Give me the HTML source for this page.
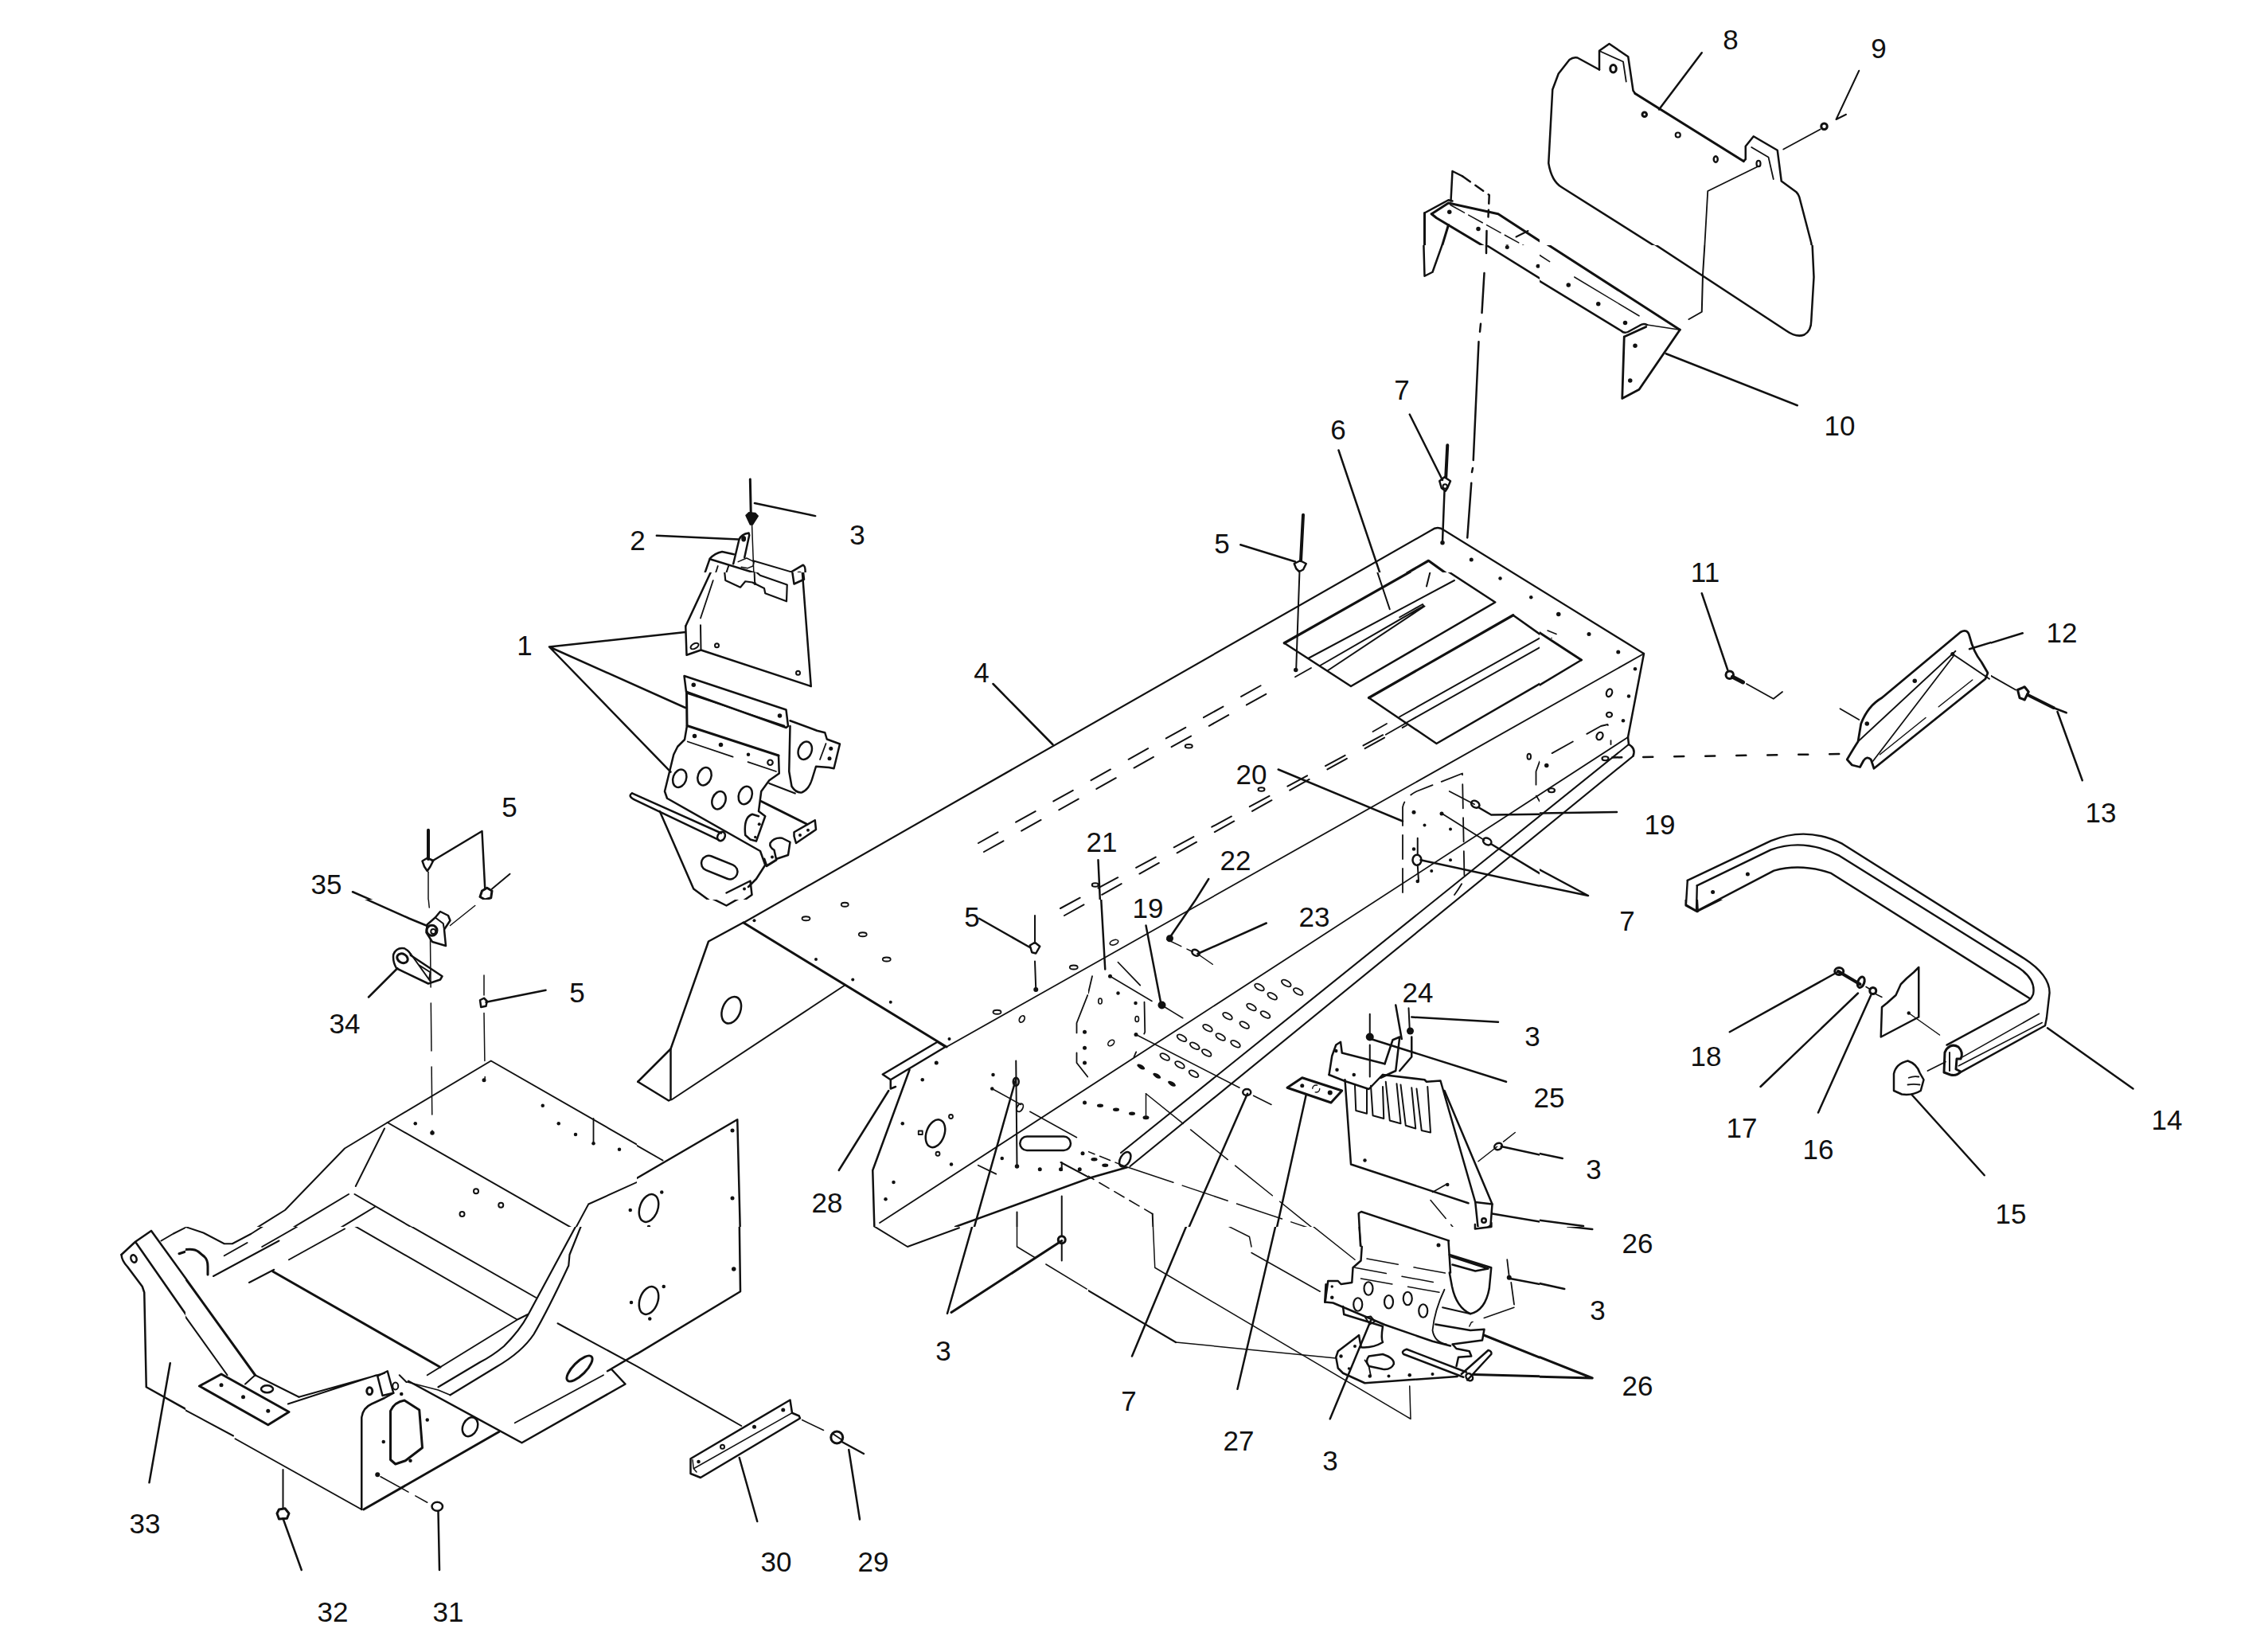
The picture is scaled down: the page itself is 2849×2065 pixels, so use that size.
<!DOCTYPE html>
<html><head><meta charset="utf-8">
<style>
html,body{margin:0;padding:0;background:#fff;}
body{width:2849px;height:2065px;overflow:hidden;}
svg{display:block;}
svg path,svg line,svg polyline,svg polygon,svg ellipse,svg circle,svg rect{vector-effect:non-scaling-stroke;}
.t{font-family:"Liberation Sans",sans-serif;font-size:35px;fill:#111;}
</style></head><body>
<svg width="2849" height="2065" viewBox="0 0 2849 2065" xmlns="http://www.w3.org/2000/svg">
<defs>
<clipPath id="c0_0_1_0_0_2849_2065"><rect x="0.0" y="0.0" width="2849.0" height="2065.0"/></clipPath>
<clipPath id="c0_1541_4_0_1541_233_411"><rect x="0.0" y="1541.0" width="233.0" height="411.0"/></clipPath>
<clipPath id="c1367_0_4_1367_0_567_308"><rect x="1367.0" y="0.0" width="567.0" height="308.0"/></clipPath>
<clipPath id="c1367_1130"><rect x="1367.0" y="1130.0" width="567" height="411"/></clipPath>
<clipPath id="c1367_1541_4_1367_1541_567_524"><rect x="1367.0" y="1541.0" width="567.0" height="524.0"/></clipPath>
<clipPath id="c1367_308"><rect x="1367.0" y="308.0" width="567" height="411"/></clipPath>
<clipPath id="c1367_719"><rect x="1367.0" y="719.0" width="567" height="411"/></clipPath>
<clipPath id="c1934_0_4_1934_0_567_308"><rect x="1934.0" y="0.0" width="567.0" height="308.0"/></clipPath>
<clipPath id="c1934_1130"><rect x="1934.0" y="1130.0" width="567" height="411"/></clipPath>
<clipPath id="c1934_1541"><rect x="1934.0" y="1541.0" width="567" height="411"/></clipPath>
<clipPath id="c1934_308"><rect x="1934.0" y="308.0" width="567" height="411"/></clipPath>
<clipPath id="c1934_719"><rect x="1934.0" y="719.0" width="567" height="411"/></clipPath>
<clipPath id="c2282_1130_4_2501_1130_348_411"><rect x="2501.0" y="1130.0" width="348.0" height="411.0"/></clipPath>
<clipPath id="c2282_719_4_2501_719_348_411"><rect x="2501.0" y="719.0" width="348.0" height="411.0"/></clipPath>
<clipPath id="c233_1130"><rect x="233.0" y="1130.0" width="567" height="411"/></clipPath>
<clipPath id="c233_1541_4_233_1541_567_524"><rect x="233.0" y="1541.0" width="567.0" height="524.0"/></clipPath>
<clipPath id="c233_719"><rect x="233.0" y="719.0" width="567" height="411"/></clipPath>
<clipPath id="c780_620_7p473_800_308_567_411"><rect x="800.0" y="308.0" width="567.0" height="411.0"/></clipPath>
<clipPath id="c800_1130"><rect x="800.0" y="1130.0" width="567" height="411"/></clipPath>
<clipPath id="c800_1541_4_800_1541_567_524"><rect x="800.0" y="1541.0" width="567.0" height="524.0"/></clipPath>
<clipPath id="c800_719"><rect x="800.0" y="719.0" width="567" height="411"/></clipPath>
</defs>
<g fill="none" stroke="#111" stroke-width="2.5" stroke-linecap="round" stroke-linejoin="round">
<g clip-path="url(#c0_0_1_0_0_2849_2065)"><g transform="translate(0.0 0.0) scale(1.000000)"><g stroke-width="2" stroke-dasharray="28 26">
<path d="M1229,1059 L1593,856"/>
<path d="M1236,1070 L1606,863"/>
<path d="M1332,1141 L1745,919"/>
<path d="M1337,1150 L1767,911"/>
</g>
<path stroke-width="2.2" d="M934,1159 L1798,666 Q1806,660 1814,666 L2065,821"/>
<path stroke-width="1.8" d="M1189,1315 L2065,821"/>
<path stroke-width="3" d="M934,1159 L1189,1315"/>
<path stroke-width="2.5" d="M2065,821 L2045,926"/>
<path stroke-width="1.8" d="M1105,1536 L2045,926"/>
<path stroke-width="2.1" d="M1408,1448 L2046,935"/>
<path stroke-width="2.1" d="M1419.5,1465 L2051.6,949.6"/>
<path stroke-width="2.5" d="M861,794 L690,812.5 L861,889 M690,812.5 L842.5,969.6"/>
<path stroke-width="2.5" d="M794,996.3 L906,1046.5 M797.3,1004.7 L902.7,1054.8 M794,996.3 Q788,1000 797.3,1004.7"/>
<ellipse cx="906" cy="1050.5" rx="4.5" ry="6" transform="rotate(30 906 1050.5)" stroke-width="2.5"/>
<g stroke-width="2.4">
<path d="M2119.8,1105.9 L2224.6,1056.1 Q2269.5,1037.4 2314.4,1059.9 L2542.8,1204 Q2574.6,1224.6 2574.6,1247 L2570.9,1278.9"/>
<path d="M2131.8,1112.3 L2224.6,1067.4 Q2265.8,1052.4 2310.7,1074.9 L2535.3,1215.2 Q2557.8,1230.2 2554,1248.9 Q2550.3,1258.3 2539,1262 L2445.5,1312.6"/>
<path d="M2131.8,1144.1 L2228.3,1093.6 Q2262,1084.2 2299.5,1096.6 L2550.3,1254.5"/>
<path d="M2119.8,1105.9 L2117.9,1136.6 L2131,1144.1 L2131.8,1112.3"/>
<path d="M2570.9,1278.9 L2569,1288.2 L2460.4,1348.1"/>
</g>
<path stroke-width="1.6" d="M2565.3,1284.5 L2460.4,1338.8 M2561.5,1273.3 L2462.3,1329.4"/>
<path stroke-width="3" d="M2445,1318 Q2452,1310 2460,1315 Q2467,1322 2463,1330 L2458,1330 L2457,1343 L2463,1346 Q2458,1352 2450,1350 L2442,1347 L2443,1322 Z"/>
<path stroke-width="2" d="M2449,1322 L2449,1345"/>
<g fill="#111" stroke="none"><circle cx="2151.6" cy="1120.5" r="2.5"/><circle cx="2195.4" cy="1098" r="2.5"/></g>
<path stroke-width="2.5" d="M1709,1565 L1706.7,1524 L1710,1522 L1820,1558.4"/>
<path stroke-width="2.5" d="M1852.9,1538 L1852.9,1543.6 L1873.4,1541 L1873.4,1536"/>
</g></g>
<g clip-path="url(#c0_1541_4_0_1541_233_411)"><g transform="translate(0.0 1541.0) scale(0.250000)"><path stroke-width="2.5" d="M610,140 L680,75 L760,20 M680,75 L1150,750 M760,20 L1285,745"/>
<path stroke-width="2.5" d="M610,140 Q612,170 640,200 L715,300 L725,330 L735,805 L1165,1045"/>
<ellipse cx="672" cy="160" rx="14" ry="19" transform="rotate(-20 672 160)" stroke-width="2.5"/>
<path stroke-width="2" d="M810,70 L870,35 L960,-10"/>
<path stroke-width="3" d="M900,135 L960,115 L1000,130 L1045,175 L1045,240"/>
<path d="M855,685 L750,1285"/>
</g></g>
<g clip-path="url(#c1367_0_4_1367_0_567_308)"><g transform="translate(1367.0 0.0) scale(0.250000)"><path stroke-width="3" d="M1690,1070 L1690,1390 L1740,1360 L1810,1130"/>
<path stroke-width="2.5" d="M1690,1070 L1810,1005 L1830,1010"/>
<path stroke-width="3" d="M1725,1075 L1810,1020 L2060,1075 L2290,1225"/>
<path stroke-width="3" d="M1725,1075 L1750,1095 L2290,1418"/>
<path stroke-width="2.5" d="M1822,1010 L1830,860 L1880,885"/>
<path stroke-width="2.5" stroke-dasharray="12 8" d="M1880,885 L2015,980 L2010,1090"/>
<path stroke-width="2.5" d="M2002,1160 L2000,1280"/>
<path stroke-width="1.5" stroke-dasharray="20 6" d="M1820,1030 L2290,1290"/>
<g fill="#111" stroke="none"><circle cx="1815" cy="1065" r="11"/><circle cx="1960" cy="1150" r="11"/><circle cx="2105" cy="1240" r="11"/></g>
<path stroke-width="2" d="M2150,1190 L2210,1160"/>
</g></g>
<g clip-path="url(#c1367_1130)"><g transform="translate(1367.0 1130.0) scale(0.250000)">




<ellipse cx="185" cy="1305" rx="24" ry="40" transform="rotate(30 185 1305)"/>
<path d="M-20,1406 L195,1345"/>
<path stroke-width="1.6" stroke-dasharray="14 8" d="M-20,1377 L26.8,1405 L323,1579"/>
<path stroke-width="2" d="M323,1579 L328,1720"/>
<path stroke-width="1.5" stroke-dasharray="14 7" d="M-20,1258 L190,1342"/>
<path stroke-width="1.5" stroke-dasharray="60 12" d="M200,1345 L1140,1660"/>
<path stroke-width="1.5" d="M290,975 L290,1095"/>
<path stroke-width="1.5" stroke-dasharray="60 12" d="M290,975 L1140,1660"/>
<g stroke-width="1.8">
<ellipse cx="860" cy="440" rx="26" ry="13" transform="rotate(30 860 440)"/>
<ellipse cx="925" cy="485" rx="26" ry="13" transform="rotate(30 925 485)"/>
<ellipse cx="995" cy="420" rx="26" ry="13" transform="rotate(30 995 420)"/>
<ellipse cx="1055" cy="462" rx="26" ry="13" transform="rotate(30 1055 462)"/>
<ellipse cx="820" cy="540" rx="26" ry="13" transform="rotate(30 820 540)"/>
<ellipse cx="890" cy="578" rx="26" ry="13" transform="rotate(30 890 578)"/>
<ellipse cx="700" cy="585" rx="26" ry="13" transform="rotate(30 700 585)"/>
<ellipse cx="785" cy="630" rx="26" ry="13" transform="rotate(30 785 630)"/>
<ellipse cx="600" cy="645" rx="26" ry="13" transform="rotate(30 600 645)"/>
<ellipse cx="665" cy="690" rx="26" ry="13" transform="rotate(30 665 690)"/>
<ellipse cx="740" cy="725" rx="26" ry="13" transform="rotate(30 740 725)"/>
<ellipse cx="470" cy="695" rx="26" ry="13" transform="rotate(30 470 695)"/>
<ellipse cx="535" cy="735" rx="26" ry="13" transform="rotate(30 535 735)"/>
<ellipse cx="595" cy="770" rx="26" ry="13" transform="rotate(30 595 770)"/>
<ellipse cx="385" cy="790" rx="26" ry="13" transform="rotate(30 385 790)"/>
<ellipse cx="460" cy="830" rx="26" ry="13" transform="rotate(30 460 830)"/>
<ellipse cx="530" cy="875" rx="26" ry="13" transform="rotate(30 530 875)"/>
</g>
<g fill="#111" stroke="none">
<ellipse cx="265" cy="840" rx="22" ry="10" transform="rotate(30 265 840)"/>
<ellipse cx="345" cy="885" rx="22" ry="10" transform="rotate(30 345 885)"/>
<ellipse cx="420" cy="925" rx="22" ry="10" transform="rotate(30 420 925)"/>
<ellipse cx="60" cy="1035" rx="16" ry="9"/>
<ellipse cx="140" cy="1055" rx="16" ry="9"/>
<ellipse cx="220" cy="1075" rx="16" ry="9"/>
<ellipse cx="290" cy="1095" rx="16" ry="10"/>
<ellipse cx="30" cy="1305" rx="16" ry="9"/>
<ellipse cx="85" cy="1335" rx="16" ry="9"/>
<circle cx="370" cy="530" r="20"/>
<circle cx="410" cy="195" r="18"/>
<circle cx="110" cy="385" r="10"/>
<circle cx="240" cy="678" r="10"/>
<circle cx="150" cy="470" r="9"/>
<circle cx="238" cy="520" r="9"/>
<circle cx="1415" cy="690" r="20"/>
<circle cx="1618" cy="660" r="18"/>
<circle cx="1390" cy="1310" r="9"/>
<circle cx="1075" cy="935" r="10"/>
<circle cx="1215" cy="970" r="12"/>
<circle cx="1245" cy="760" r="9"/>
<circle cx="1250" cy="855" r="9"/>
<circle cx="1335" cy="880" r="9"/>
</g>
<g stroke-width="1.6">
<ellipse cx="60" cy="510" rx="9" ry="14"/>
<ellipse cx="115" cy="720" rx="18" ry="12" transform="rotate(-40 115 720)"/>
<ellipse cx="245" cy="600" rx="9" ry="14"/>
<ellipse cx="130" cy="215" rx="22" ry="12" transform="rotate(-20 130 215)"/>
</g>
<path stroke-width="1.8" stroke-dasharray="40 25" d="M150,315 L285,455 M20,385 L0,470 M282,515 L285,665 L230,790"/>
<path stroke-width="1.5" d="M110,385 L320,510 M385,540 L475,595"/>
<path stroke-width="1.5" d="M240,678 L760,945 M830,985 L920,1030"/>
<ellipse cx="797" cy="968" rx="20" ry="16"/>
<path d="M65,0 L85,350"/>
<path d="M290,130 L365,520"/>
<path d="M540,0 L410,190"/>
<path stroke-width="1.5" stroke-dasharray="20 8" d="M395,200 L525,262"/>
<ellipse cx="540" cy="267" rx="20" ry="14" transform="rotate(30 540 267)"/>
<path stroke-width="1.5" d="M560,280 L625,325"/>
<path d="M550,272 L895,118"/>
<path d="M500,1660 L800,975"/>
<path d="M945,1660 L1095,980"/>
<path stroke-width="3" d="M1000,945 L1075,895 L1275,960 L1220,1020 Z"/>
<circle cx="1145" cy="950" r="18" stroke-width="1.4" stroke-dasharray="8 6"/>
<path d="M1210,880 L1225,785 L1245,730 L1268,715 L1275,770 L1490,825"/>
<path d="M1210,880 L1290,912 L1410,952 L1460,900 L1480,880"/>
<path d="M1490,825 L1530,705 L1565,690 L1545,860 L1470,895"/>
<path d="M1565,860 L1625,790 L1625,690"/>
<path stroke-width="2" d="M1415,575 L1415,680 M1415,730 L1415,890"/>
<path stroke-width="2" d="M1610,545 L1615,650"/>
<path d="M1545,530 L1575,700"/>
<path d="M1625,590 L2060,615"/>
<path d="M1420,700 L2100,915"/>
<path d="M1290,905 L1320,1330 L1910,1525"/>
<path d="M1480,880 L1690,905 L1700,915 L1770,910 L1945,1520 L1958,1645"/>
<path d="M1790,960 L2030,1530 L2022,1635 Q1990,1668 1958,1645"/>
<circle cx="1988" cy="1612" r="11" stroke-width="2.5"/>
<path d="M1945,1520 L2030,1530"/>
<g stroke-width="2">
<path d="M1340,935 L1345,1060 L1400,1075 L1400,950"/>
<path d="M1420,935 L1430,1085 L1485,1100 L1480,940"/>
<path d="M1495,915 L1515,1110 L1570,1125 L1550,925"/>
<path d="M1570,930 L1595,1135 L1645,1150 L1625,945"/>
<path d="M1650,950 L1675,1160 L1720,1170 L1705,940"/>
</g>
<path stroke-width="1.5" stroke-dasharray="30 10" d="M1960,1315 L2145,1170"/>
<ellipse cx="2060" cy="1240" rx="20" ry="16" transform="rotate(-30 2060 1240)"/>
<path d="M2075,1240 L2280,1285"/>
<path stroke-width="1.5" d="M1730,1470 L1800,1430"/>
<circle cx="1805" cy="1432" r="9" fill="#111" stroke="none"/>
<path stroke-width="1.5" stroke-dasharray="30 10" d="M1720,1510 L1845,1660"/>

<path d="M2030,1578 L2280,1620"/>
</g></g>
<g clip-path="url(#c1367_1541_4_1367_1541_567_524)"><g transform="translate(1367.0 1541.0) scale(0.250000)"><path d="M500,-20 L220,650"/>
<path d="M945,-20 L750,815"/>
<path d="M1215,965 L1420,470"/>
<path stroke-width="1.5" d="M325,-20 L335,205 L1620,965 L1615,800"/>
<path stroke-width="2.2" d="M-20,308 L440,580"/>
<path stroke-width="1.5" d="M440,580 L1245,660"/>
<path stroke-width="1.5" d="M690,-10 L810,50 L820,100 M820,130 L1165,325"/>
<path stroke-width="1.5" d="M1120,-10 L1340,165"/>
<path stroke-width="2" d="M1360,-20 L1370,95"/>
<path d="M1810,70 L1820,230"/>
<path d="M1375,100 L1370,170 L1330,205 L1325,280 L1270,288 L1255,272 L1205,272 L1190,378 L1230,382 L1490,492 L1730,575 L1820,598"/>
<path stroke-width="3" d="M1195,290 L1190,378"/>
<path d="M1815,140 L2025,205 L2015,310 Q1995,420 1920,437 Q1850,405 1828,300 L1815,230"/>
<path d="M1825,150 L2010,210 L1945,222 L1830,190"/>
<path stroke-width="1.8" d="M1780,405 L1920,437 M1790,315 Q1740,420 1730,520 Q1740,580 1800,590"/>
<path d="M1745,490 L1920,520 L1990,515 L1980,570 L1830,590 L1850,612 L1915,625 L1925,650 L1860,655 L1850,700"/>
<g stroke-width="2.2">
<ellipse cx="1408" cy="310" rx="22" ry="33"/>
<ellipse cx="1355" cy="390" rx="22" ry="33"/>
<ellipse cx="1510" cy="377" rx="22" ry="33"/>
<ellipse cx="1605" cy="360" rx="22" ry="33"/>
<ellipse cx="1683" cy="422" rx="22" ry="33"/>
</g>
<path stroke-width="1.5" stroke-dasharray="40 20" d="M1400,160 L1810,235 M1340,205 L1800,290 M1370,260 L1770,330"/>
<path d="M1280,400 L1285,440 L1480,500 Q1470,560 1480,580 Q1430,610 1370,605"/>
<path d="M1360,545 L1255,625 L1245,655 L1255,710 L1280,735 L1390,785 L1855,752"/>
<path d="M1360,545 L1370,600"/>
<path d="M1600,615 L1900,730 M1585,640 L1885,755 M1600,615 Q1570,625 1585,640"/>
<path d="M1410,650 L1480,640 Q1540,660 1535,690 Q1520,720 1480,715 L1410,700 Q1390,675 1410,650 Z"/>
<path stroke-width="1.8" d="M1390,670 L1410,700 L1420,750"/>
<path d="M1875,740 L2010,620 M1905,770 L2025,640 M2010,620 Q2030,625 2025,640"/>
<ellipse cx="1915" cy="755" rx="15" ry="20" transform="rotate(-40 1915 755)"/>
<g fill="#111" stroke="none">
<circle cx="1415" cy="750" r="9"/><circle cx="1510" cy="750" r="8"/><circle cx="1615" cy="745" r="9"/><circle cx="1730" cy="740" r="8"/>
<circle cx="1270" cy="650" r="9"/><circle cx="1340" cy="600" r="8"/><circle cx="1310" cy="712" r="7"/>
<circle cx="1760" cy="92" r="10"/><circle cx="2115" cy="255" r="12"/>
<circle cx="1225" cy="300" r="7"/><circle cx="1225" cy="355" r="9"/>
</g>
<path stroke-width="3" d="M1990,545 L2290,665"/>
<path stroke-width="3" d="M1935,742 L2290,752"/>
<path stroke-width="1.8" d="M2105,165 L2115,250 M2125,280 L2140,390"/>
<path d="M2120,260 L2290,292"/>
<path stroke-width="1.5" stroke-dasharray="40 15" d="M2140,405 L1925,480 L1915,500"/>
<path stroke-width="2" d="M1392,455 L1420,450 L1440,475 L1415,490 Z"/>
</g></g>
<g clip-path="url(#c1367_308)"><g transform="translate(1367.0 308.0) scale(0.250000)">
<path stroke-width="3.2" d="M1580,1660 L1710,1585 L1800,1650"/>
<path d="M1258,1030 L1470,1660"/>
<path d="M1615,850 L1780,1180"/>
<path stroke-width="4" d="M1805,1005 L1797,1165"/>
<path stroke-width="2.5" d="M1765,1185 L1790,1165 L1820,1185 L1805,1220 L1795,1235 L1775,1220 Z"/>
<circle cx="1793" cy="1212" r="11" stroke-width="2"/>
<path stroke-width="2.5" d="M1790,1235 L1780,1490"/>
<circle cx="1780" cy="1495" r="11" fill="#111" stroke="none"/>
<path stroke-width="4" d="M1080,1355 L1068,1585"/>
<path stroke-width="2.5" d="M1035,1600 L1065,1585 L1095,1600 L1080,1630 L1060,1640 L1045,1625 Z"/>
<path d="M765,1505 L1040,1590"/>
<path stroke-width="2.5" d="M1990,140 L1978,340 M1972,395 L1968,435 M1962,485 L1935,1080 M1932,1120 L1928,1140 M1925,1195 L1905,1470"/>
<path stroke-width="2.5" d="M1685,-20 L1690,155 L1730,135 L1785,-20"/>
<path stroke-width="2.5" d="M1985,-10 L2290,180 M2000,-10 L2000,40"/>
<g fill="#111" stroke="none"><circle cx="2105" cy="10" r="10"/><circle cx="2260" cy="105" r="10"/><circle cx="1925" cy="1580" r="10"/></g>
</g></g>
<g clip-path="url(#c1367_719)"><g transform="translate(1367.0 719.0) scale(0.250000)">
<path stroke-width="3.2" d="M985,355 L1630,-10"/>
<path stroke-width="2.5" d="M985,355 L1320,572 L2045,150 L1800,-10"/>
<path stroke-width="2" d="M1105,432 L1840,40 M1165,468 L1685,168 L1680,160 L1565,225 M1205,492 L1690,170"/>
<path stroke-width="2" d="M1515,185 L1450,-10"/>
<path stroke-width="2" d="M1700,70 L1720,-10"/>
<path stroke-width="2" d="M1062,-10 L1045,480"/>
<circle cx="1043" cy="490" r="11" fill="#111" stroke="none"/>
<path stroke-width="1.8" d="M1040,525 L1120,480"/>
<path stroke-width="3.2" d="M1410,630 L2135,215"/>
<path stroke-width="2.5" d="M1410,630 L1750,860 L2290,547 M2135,215 L2290,325"/>
<path stroke-width="2" d="M1565,725 L2290,318 M1590,760 L2290,365"/>
<path stroke-width="1.8" d="M1430,800 L1500,760 M1495,815 L1600,755"/>




<g stroke-width="1.8" stroke-dasharray="30 12">
<path d="M1580,1608 L1580,1180 Q1590,1130 1650,1100 L1880,1010 L1890,1540 Q1870,1580 1840,1620"/>
</g>
<path d="M955,990 L1580,1250"/>
<path stroke-width="1.8" d="M1815,1100 L1940,1165"/>
<ellipse cx="1945" cy="1165" rx="22" ry="16" transform="rotate(30 1945 1165)" stroke-width="2.5"/>
<path d="M1960,1180 L2025,1218 L2290,1215"/>
<path stroke-width="1.8" d="M1775,1210 L1990,1345"/>
<ellipse cx="2005" cy="1352" rx="22" ry="16" transform="rotate(30 2005 1352)" stroke-width="2.5"/>
<path d="M2025,1365 L2290,1525"/>
<path stroke-width="2" d="M1655,1335 L1655,1420 M1655,1470 L1660,1550"/>
<ellipse cx="1652" cy="1445" rx="22" ry="26" stroke-width="2.5"/>
<path d="M1670,1445 L2290,1580"/>
<g fill="#111" stroke="none"><circle cx="1636" cy="1205" r="10"/><circle cx="1776" cy="1212" r="10"/><circle cx="1690" cy="1270" r="8"/><circle cx="1820" cy="1290" r="8"/><circle cx="1636" cy="1390" r="9"/><circle cx="1820" cy="1445" r="8"/><circle cx="1725" cy="1500" r="8"/><circle cx="1655" cy="1552" r="9"/>
<circle cx="2070" cy="30" r="9"/><circle cx="2225" cy="125" r="9"/></g>
<ellipse cx="505" cy="873" rx="18" ry="9" stroke-width="2"/>
<ellipse cx="870" cy="1090" rx="16" ry="9" stroke-width="2"/>
<ellipse cx="35" cy="1570" rx="16" ry="9" stroke-width="2"/>
<ellipse cx="2215" cy="925" rx="9" ry="14" stroke-width="2"/>
<path stroke-width="1.8" stroke-dasharray="30 14" d="M2268,950 L2250,1000 L2250,1120 L2268,1150"/>
<path d="M50,1445 L60,1660"/>
<path d="M605,1540 L530,1660"/>
</g></g>
<g clip-path="url(#c1934_0_4_1934_0_567_308)"><g transform="translate(1934.0 0.0) scale(0.250000)"><path stroke-width="2.5" d="M300,350 L300,255 L350,220 L445,285 L470,455 L480,470"/>
<path stroke-width="3.2" d="M480,470 L1025,810"/>
<path stroke-width="2.5" d="M1025,810 L1035,800 L1035,735 L1075,685 L1195,755 L1215,910 L1290,965 Q1300,975 1305,990 L1365,1220 L1375,1300 L1365,1660"/>
<path stroke-width="2.5" d="M300,350 L190,290 Q170,285 150,300 L95,370 L65,450 L45,820 Q60,910 110,940 L1240,1654"/>
<path stroke-width="1.8" d="M305,258 L420,310 L435,410 M1065,740 L1150,790 L1175,900"/>
<ellipse cx="370" cy="345" rx="15" ry="19" stroke-width="3"/>
<path d="M815,265 L600,550"/>
<circle cx="527" cy="575" r="11" stroke-width="3"/>
<circle cx="695" cy="678" r="12" stroke-width="2.2"/>
<ellipse cx="885" cy="800" rx="10" ry="15" stroke-width="2.5"/>
<ellipse cx="1100" cy="822" rx="10" ry="15" stroke-width="2.2"/>
<path stroke-width="1.8" d="M1100,835 L845,960 L820,1400 L810,1570 L750,1600"/>
<path stroke-width="1.8" d="M1225,750 L1410,650"/>
<circle cx="1430" cy="635" r="15" stroke-width="3"/>
<path stroke-width="2" d="M1605,355 L1490,600 L1540,575"/>
</g></g>
<g clip-path="url(#c1934_1130)"><g transform="translate(1934.0 1130.0) scale(0.250000)"><path d="M735,-20 L735,30 L790,60 L930,-10 M790,-20 L795,60"/>








<path d="M1780,875 Q1790,825 1850,810 Q1895,825 1910,870 L1930,905 L1915,960 Q1875,985 1820,978 L1780,960 Z"/>
<path stroke-width="1.8" d="M1855,895 Q1880,885 1905,890 M1850,930 Q1880,925 1910,930"/>
<path d="M1870,980 L2235,1385"/>
<path stroke-width="1.8" stroke-dasharray="30 15" d="M1950,860 L2040,815"/>
<path d="M1715,690 L1720,540 L1745,520 L1790,480 L1815,425 L1845,395 L1880,365 L1905,340 L1905,590 Z"/>
<path stroke-width="1.5" d="M1855,570 L2010,680"/>
<circle cx="1855" cy="570" r="9" fill="#111" stroke="none"/>
<path stroke-width="4" d="M1500,360 L1610,425"/>
<ellipse cx="1505" cy="360" rx="22" ry="18" stroke-width="3"/>
<ellipse cx="1615" cy="415" rx="16" ry="28" stroke-width="3" transform="rotate(20 1615 415)"/>
<circle cx="1675" cy="458" r="16" stroke-width="3"/>
<path stroke-width="1.5" d="M1640,438 L1660,450 M1690,475 L1720,490"/>
<path d="M955,665 L1495,365"/>
<path d="M1110,940 L1600,470"/>
<path d="M1400,1070 L1665,480"/>
<path d="M-20,1272 L115,1300"/>
<path d="M-20,1608 L220,1640"/>
</g></g>
<g clip-path="url(#c1934_1541)"><g transform="translate(1934.0 1541.0) scale(0.250000)"><path d="M-20,280 L125,312"/>
<path stroke-width="3" d="M-20,647 L265,760 L-20,752"/>
<path d="M140,-2 L265,12"/>
</g></g>
<g clip-path="url(#c1934_308)"><g transform="translate(1934.0 308.0) scale(0.250000)"><path stroke-width="3" d="M30,-10 L705,425"/>
<path stroke-width="1.5" d="M175,160 L500,355"/>
<path stroke-width="1.5" stroke-dasharray="15 10" d="M0,50 L70,95"/>
<path stroke-width="2.5" d="M-20,168 L410,430 Q425,445 445,435 L500,405 Q520,390 540,400"/>
<path stroke-width="1.5" d="M540,400 L705,425"/>
<path stroke-width="2.8" d="M425,460 L415,770 L500,725 L705,425 M425,460 L535,410"/>
<g fill="#111" stroke="none"><circle cx="145" cy="200" r="11"/><circle cx="295" cy="295" r="11"/><circle cx="430" cy="390" r="11"/><circle cx="480" cy="505" r="11"/><circle cx="455" cy="680" r="11"/><circle cx="-26" cy="108" r="10"/></g>
<path d="M635,545 L1295,805"/>
<path stroke-width="2.5" d="M570,-10 L1240,430 Q1290,465 1330,450 Q1365,430 1365,380 L1378,160 L1370,-10"/>
<path stroke-width="2" d="M830,-10 L820,150 L815,335 L750,372"/>
</g></g>
<g clip-path="url(#c1934_719)"><g transform="translate(1934.0 719.0) scale(0.250000)">





<path stroke-width="2.5" d="M448,864 Q485,884 470,922"/>
<path stroke-width="2.5" d="M444,828 L448,864"/>
<path stroke-width="1.8" stroke-dasharray="30 20" d="M-12,1072 L-16,992 Q-12,948 42,920 L308,772 L342,764 L358,804 L358,864"/>
<path d="M-20,1210 L388,1204"/>
<path stroke-width="3" d="M-20,290 L210,440"/>
<path stroke-width="2.5" d="M210,440 L-20,578"/>
<path stroke-width="1.5" stroke-dasharray="12 8" d="M40,292 L85,310 L60,330"/>
<g fill="#111" stroke="none"><circle cx="95" cy="210" r="11"/><circle cx="248" cy="310" r="10"/><circle cx="395" cy="400" r="10"/><circle cx="480" cy="485" r="9"/><circle cx="448" cy="622" r="9"/><circle cx="420" cy="745" r="9"/><circle cx="35" cy="970" r="11"/>
<circle cx="1645" cy="760" r="11"/><circle cx="1885" cy="545" r="11"/><circle cx="2075" cy="410" r="10"/></g>
<g stroke-width="2.2"><ellipse cx="350" cy="605" rx="14" ry="20" transform="rotate(20 350 605)"/><ellipse cx="350" cy="715" rx="14" ry="12"/><ellipse cx="302" cy="822" rx="15" ry="20" transform="rotate(30 302 822)"/><ellipse cx="60" cy="1095" rx="16" ry="10"/><ellipse cx="330" cy="935" rx="16" ry="10"/></g>
<path stroke-width="2.5" d="M815,105 L945,490"/>
<circle cx="955" cy="515" r="19" stroke-width="3"/>
<path stroke-width="5" d="M970,525 L1022,552"/>
<path stroke-width="1.8" d="M1040,560 L1175,635 L1220,600"/>
<path stroke-width="2.8" d="M1545,940 Q1580,880 1600,850 L1615,760 Q1650,670 1720,630 L2115,300 Q2150,280 2160,320 Q2180,400 2220,450 L2252,505 L2240,535 L1680,985 L1665,940 Q1645,920 1628,945 L1610,978 L1570,968 Z"/>
<path stroke-width="1.8" d="M1605,845 L2090,395 M1675,948 L2080,420"/>
<path stroke-width="1.5" d="M1710,915 L1940,730 M2005,675 L2175,540"/>
<path stroke-width="1.8" d="M1510,685 L1605,740"/>
<path stroke-width="2" d="M2075,410 L2260,535"/>
<path stroke-width="2.5" d="M2160,385 L2290,345"/>
<path stroke-width="2.5" stroke-dasharray="12 27" d="M365,930 L1515,912"/>




<path d="M-20,1483 L244,1624 M-20,1569 L244,1624"/>
</g></g>
<g clip-path="url(#c2282_1130_4_2501_1130_348_411)"><g transform="translate(2282.0 1130.0) scale(0.250000)"><path d="M1160,645 L1590,950"/>
<path d="M475,975 L845,1390"/>
</g></g>
<g clip-path="url(#c2282_719_4_2501_719_348_411)"><g transform="translate(2282.0 719.0) scale(0.250000)"><path stroke-width="2" d="M860,510 L1000,590"/>
<path stroke-width="3" d="M1010,590 L1045,575 L1065,600 L1045,640 L1020,630 Z"/>
<path stroke-width="4" d="M1060,615 L1190,680"/>
<path stroke-width="2.5" d="M1190,680 L1255,705"/>
<path d="M1210,700 L1335,1045"/>
<path d="M775,385 L1035,305"/>
</g></g>
<g clip-path="url(#c233_1130)"><g transform="translate(233.0 1130.0) scale(0.250000)"><path stroke-width="2" d="M1015,1120 L1535,810 L2290,1243"/>
<path stroke-width="2" d="M340,1660 L500,1560 L800,1250 L1015,1120"/>
<path stroke-width="2" d="M1015,1120 L1960,1660"/>
<path stroke-width="2" d="M1000,1150 L855,1440"/>
<path stroke-width="2" d="M820,1480 L520,1660 M850,1480 L1160,1660 M950,1545 L760,1660"/>
<path stroke-width="2" d="M2025,1530 L2290,1410 M2025,1530 L1955,1660"/>
<g fill="#111" stroke="none"><circle cx="1155" cy="1125" r="9"/><circle cx="1240" cy="1172" r="11"/><circle cx="1500" cy="907" r="10"/><circle cx="1795" cy="1035" r="9"/><circle cx="1875" cy="1125" r="9"/><circle cx="1960" cy="1180" r="9"/><circle cx="2180" cy="1255" r="9"/><circle cx="2050" cy="1225" r="9"/><circle cx="2235" cy="1560" r="9"/></g>
<g stroke-width="2"><circle cx="1460" cy="1465" r="12"/><circle cx="1585" cy="1535" r="12"/><circle cx="1390" cy="1580" r="12"/></g>
<path stroke-width="1.5" stroke-dasharray="60 20" d="M1220,-10 L1225,40 M1230,200 L1240,1170 M1500,380 L1500,480 M1500,570 L1505,905"/>
<path stroke-width="1.8" d="M2050,1100 L2050,1225"/>
<path stroke-width="2.5" d="M1480,505 L1500,495 L1515,510 L1510,535 L1485,540 Z"/>
<path d="M1510,515 L1810,455"/>
<path stroke-width="2.5" d="M1215,125 L1255,90 L1280,60 L1320,80 L1330,105 L1300,150 L1308,232 L1240,212 L1210,165 Z"/>
<path stroke-width="2" d="M1255,90 L1295,120 L1300,150"/>
<circle cx="1238" cy="155" r="26" stroke-width="3"/>
<circle cx="1245" cy="160" r="12" stroke-width="2"/>
<path d="M890,-10 L1125,95 L1210,130"/>
<path stroke-width="1.5" d="M1330,130 L1455,30"/>
<path stroke-width="2.5" d="M1045,275 Q1060,238 1100,245 Q1130,262 1132,280 L1290,385 L1280,402 L1220,422 L1060,345 Q1040,310 1045,275 Z"/>
<ellipse cx="1090" cy="295" rx="28" ry="22" transform="rotate(30 1090 295)" stroke-width="3"/>
<path stroke-width="2" d="M1130,270 L1230,410 M1175,330 L1230,365 L1225,400"/>
<path d="M920,490 L1065,345"/>
</g></g>
<g clip-path="url(#c233_1541_4_233_1541_567_524)"><g transform="translate(233.0 1541.0) scale(0.250000)"><path stroke-width="2" d="M-30,-10 L90,30 L195,85 L235,85 L330,35 L400,-10"/>
<path stroke-width="2" d="M195,145 L310,80 M385,100 L560,0 M140,248 L470,70 M520,165 L800,10 M320,280 L445,215"/>
<path stroke-width="3" d="M-20,118 Q40,105 65,125 L95,150 Q112,165 112,200 L112,240"/>
<path stroke-width="3" d="M-30,218 L350,745"/>
<path stroke-width="2" d="M-30,410 L210,745"/>
<path stroke-width="3" d="M440,225 L1280,705"/>
<path stroke-width="2" d="M840,-10 L1665,465 M1120,-10 L1760,355"/>
<path stroke-width="2.2" d="M1990,-10 L1930,140 L1925,195 Q1820,420 1750,540 Q1690,630 1560,705 L1330,845"/>
<path stroke-width="2.2" d="M1965,-10 L1720,445 Q1680,520 1600,600 Q1540,650 1480,680 L1270,805"/>
<path stroke-width="2" d="M1215,745 L1670,465 L1720,440"/>
<path stroke-width="2.5" d="M1120,775 L1690,1085 L2210,790 L2140,715 L2120,725 L2290,625"/>
<path stroke-width="1.8" d="M1655,985 L2100,745 M1115,780 L1270,820 L1330,845"/>
<ellipse cx="1980" cy="712" rx="85" ry="32" transform="rotate(-45 1980 712)" stroke-width="3"/>
<path stroke-width="2" d="M1870,485 L2290,712"/>
<path d="M885,1420 L885,960 Q890,910 935,890 L1000,860 L1045,835"/>
<path d="M1030,925 Q1050,880 1100,872 L1175,920 L1190,1110 L1105,1175 L1055,1192 L1030,1170 Z" stroke-width="3"/>
<ellipse cx="1430" cy="1005" rx="36" ry="50" transform="rotate(25 1430 1005)"/>
<path stroke-width="3" d="M895,1420 L1575,1030"/>
<path stroke-width="2" d="M-30,905 L240,1050 M250,1065 L885,1420"/>
<path stroke-width="3" d="M70,800 L180,740 L520,930 L415,995 Z"/>
<g fill="#111" stroke="none"><circle cx="180" cy="795" r="10"/><circle cx="290" cy="855" r="10"/><circle cx="415" cy="925" r="10"/>
<circle cx="1085" cy="840" r="9"/><circle cx="1215" cy="970" r="9"/><circle cx="995" cy="1080" r="9"/><circle cx="1130" cy="1175" r="9"/><circle cx="965" cy="1245" r="12"/><circle cx="2240" cy="380" r="9"/></g>
<path stroke-width="2" d="M300,790 L350,745 L570,855"/>
<ellipse cx="410" cy="815" rx="30" ry="18" stroke-width="2.5"/>
<path stroke-width="2" d="M515,890 L960,745 M570,855 L1000,735"/>
<path stroke-width="2.5" d="M965,750 L1015,725 L1045,835 L990,848 Z"/>
<ellipse cx="925" cy="825" rx="14" ry="18" stroke-width="3"/>
<ellipse cx="1055" cy="800" rx="14" ry="18" stroke-width="2"/>
<path stroke-width="2" d="M1075,745 L1110,780"/>
<path stroke-width="2" d="M490,1220 L490,1415"/>
<path stroke-width="3" d="M460,1440 L470,1420 L500,1415 L520,1440 L510,1465 L470,1468 Z"/>
<path d="M490,1465 L583,1724"/>
<path stroke-width="1.5" stroke-dasharray="40 10" d="M980,1255 L1215,1385"/>
<ellipse cx="1265" cy="1405" rx="27" ry="22" stroke-width="2.5"/>
<path d="M1270,1430 L1276,1724"/>
</g></g>
<g clip-path="url(#c233_719)"><g transform="translate(233.0 719.0) scale(0.250000)">
<path stroke-width="4" d="M1220,1295 L1220,1440"/>
<path stroke-width="2.5" d="M1190,1450 L1215,1435 L1245,1448 L1230,1478 L1215,1500 L1200,1478 Z"/>
<path d="M1240,1450 L1490,1300 L1505,1590"/>
<path stroke-width="3" d="M1490,1600 L1515,1585 L1540,1600 L1535,1635 L1505,1644 L1480,1630 Z"/>
<path stroke-width="2" d="M1540,1590 L1630,1515"/>
<path stroke-width="1.5" stroke-dasharray="50 15" d="M1220,1505 L1220,1660"/>
<path d="M840,1605 L950,1653"/>
</g></g>
<g clip-path="url(#c780_620_7p473_800_308_567_411)"><g transform="translate(780.0 620.0) scale(0.133815)"><path stroke-width="3" d="M1213,-134 L1220,190"/>
<path fill="#111" stroke-width="2" d="M1175,205 L1200,180 L1260,185 L1285,210 L1235,290 L1215,290 Z"/>
<path stroke-width="1.5" d="M1230,295 L1250,830"/>
<path d="M1255,90 L1825,210"/>
<path d="M335,395 L1105,430"/>
<path stroke-width="2.5" d="M615,1240 L835,610 Q880,560 950,545 L1060,570"/>
<path stroke-width="2.5" d="M835,615 L1600,850"/>
<path stroke-width="2.5" d="M1600,735 L1710,670 Q1735,680 1730,760 L1700,820 L1610,855 Z"/>
<ellipse cx="1675" cy="748" rx="22" ry="18" fill="#111" stroke="none"/>
<path stroke-width="2.5" d="M1710,820 L1785,1700"/>
<path stroke-width="2" d="M1240,630 L1600,735"/>
<path stroke-width="2.5" d="M1055,660 L1110,430 Q1130,380 1200,370 L1205,390 L1160,600"/>
<ellipse cx="1152" cy="425" rx="22" ry="28" fill="#111" stroke="none"/>
<path stroke-width="1.5" d="M1100,640 L1180,605 L1250,640 L1240,680 L1190,700 L1130,690"/>
<path stroke-width="2" d="M1010,680 L970,800 L990,850 L1100,880 L1160,825 L1230,840 L1340,890 L1350,945 L1550,1010 L1560,850"/>
<circle cx="1250" cy="840" r="18" fill="#111" stroke="none"/>
<path stroke-width="1.8" stroke-dasharray="40 8" d="M910,680 L750,1180"/>
</g></g>
<g clip-path="url(#c800_1130)"><g transform="translate(800.0 1130.0) scale(0.250000)"><path d="M5,915 L170,750 L360,210 L535,115"/>
<path d="M5,915 L160,1010 L170,1005 L170,750"/>
<path stroke-width="2" d="M175,1005 L1045,430"/>

<ellipse cx="475" cy="555" rx="45" ry="70" transform="rotate(22 475 555)"/>

<path d="M1235,878 L1510,715 L1550,740 L1275,905 Z M1275,905 L1275,950 L1300,940"/>
<path d="M1015,1360 L1265,960"/>
<path d="M1370,855 L1185,1360 L1195,1700"/>

<path d="M1600,1644 L2300,1390"/>
<ellipse cx="1500" cy="1175" rx="45" ry="72" transform="rotate(20 1500 1175)"/>
<rect x="1925" y="1190" width="255" height="70" rx="35"/>
<path d="M1680,1700 L1905,900"/>
<path stroke-width="2" d="M1905,810 L1910,1340"/>
<ellipse cx="1905" cy="915" rx="14" ry="20"/>
<path d="M1720,95 L1975,240"/>
<path d="M1975,230 L2000,215 L2025,235 L2005,270 L1985,265 Z"/>
<path stroke-width="2" d="M2000,80 L2000,220 M2000,310 L2005,450"/>
<g fill="#111" stroke="none">
<circle cx="590" cy="105" r="8"/><circle cx="900" cy="300" r="8"/><circle cx="1085" cy="402" r="8"/><circle cx="1275" cy="515" r="8"/><circle cx="1570" cy="700" r="8"/>
<circle cx="2005" cy="452" r="12"/>
<circle cx="1505" cy="820" r="10"/><circle cx="1435" cy="905" r="9"/><circle cx="1335" cy="1125" r="9"/><circle cx="1290" cy="1420" r="9"/><circle cx="1250" cy="1505" r="9"/>
<circle cx="1790" cy="880" r="9"/><circle cx="1785" cy="950" r="9"/><circle cx="1835" cy="1300" r="9"/><circle cx="1580" cy="1330" r="9"/><circle cx="1910" cy="1340" r="11"/><circle cx="2025" cy="1355" r="10"/><circle cx="2130" cy="1355" r="10"/><circle cx="2225" cy="1355" r="10"/><circle cx="2250" cy="1020" r="10"/><circle cx="2240" cy="1275" r="10"/>
<circle cx="2250" cy="665" r="10"/><circle cx="2250" cy="745" r="10"/><circle cx="2250" cy="820" r="10"/>
<circle cx="480" cy="1160" r="10"/><circle cx="480" cy="1500" r="10"/><circle cx="125" cy="1470" r="9"/><circle cx="60" cy="1644" r="9"/>
</g>
<g stroke-width="1.8">
<ellipse cx="850" cy="95" rx="20" ry="10"/><ellipse cx="1045" cy="25" rx="18" ry="10"/><ellipse cx="1135" cy="175" rx="20" ry="10"/><ellipse cx="1255" cy="300" rx="20" ry="10"/><ellipse cx="1810" cy="565" rx="20" ry="10"/><ellipse cx="2195" cy="340" rx="20" ry="10"/>
<ellipse cx="1935" cy="600" rx="12" ry="18" transform="rotate(30 1935 600)"/>
<ellipse cx="1925" cy="1045" rx="14" ry="22" transform="rotate(30 1925 1045)"/>
<circle cx="1578" cy="1090" r="10"/><circle cx="1512" cy="1277" r="10"/>
<rect x="1415" y="1162" width="20" height="18"/>
</g>
<path stroke-width="1.5" d="M1785,950 L1930,1030 M1975,1065 L2210,1195"/>
<path stroke-width="1.8" stroke-dasharray="25 20" d="M1715,1335 L1840,1395"/>
<path stroke-width="1.8" stroke-dasharray="50 25" d="M2265,480 L2210,620 L2210,820 L2265,890"/>
<path stroke-width="2" d="M2130,1320 L2300,1410 M2135,1320 L2135,1360"/>
<path d="M-30,1417 L505,1105 L520,1700"/>
<path stroke-width="2" d="M-30,1218 L130,1310"/>
<ellipse cx="60" cy="1550" rx="45" ry="72" transform="rotate(20 60 1550)"/>
<path stroke-width="2" d="M1910,1570 L1910,1700 M2135,1490 L2135,1700"/>
<path d="M370,-10 L450,30 L520,-10"/>
</g></g>
<g clip-path="url(#c800_1541_4_800_1541_567_524)"><g transform="translate(800.0 1541.0) scale(0.250000)"><path d="M515,-30 L520,325 L-30,657"/>
<ellipse cx="60" cy="370" rx="45" ry="72" transform="rotate(20 60 370)"/>
<g fill="#111" stroke="none"><circle cx="135" cy="300" r="9"/><circle cx="65" cy="462" r="9"/><circle cx="487" cy="212" r="11"/>
<circle cx="310" cy="1180" r="9"/><circle cx="590" cy="1005" r="10"/><circle cx="735" cy="920" r="10"/></g>
<circle cx="430" cy="1105" r="10" stroke-width="2"/>
<path stroke-width="2" d="M-30,683 L525,1000"/>
<path d="M270,1165 L770,870 L780,935 L815,950 L820,962 L320,1260 L270,1240 Z"/>
<path stroke-width="1.5" d="M285,1215 L780,935 M300,1232 L285,1215 L280,1170"/>
<path stroke-width="1.5" stroke-dasharray="30 12" d="M830,970 L975,1040"/>
<circle cx="1005" cy="1058" r="30" stroke-width="3"/>
<path stroke-width="2" d="M985,1040 L1030,1070"/>
<path d="M1030,1080 L1140,1140"/>
<path d="M515,1160 L605,1480"/>
<path d="M1065,1120 L1120,1470"/>
<path stroke-width="2" d="M1180,-10 L1360,100 L1620,5"/>
<path d="M1690,-20 L1560,435"/>
<path stroke-width="3" d="M1580,430 L2135,70"/>
<circle cx="2135" cy="65" r="18" stroke-width="3"/>
<path stroke-width="2" d="M2135,-30 L2135,45 M2135,85 L2135,170"/>
<path stroke-width="1.5" stroke-dasharray="60 15" d="M1910,-30 L1910,100 L2290,330"/>
</g></g>
<g clip-path="url(#c800_719)"><g transform="translate(800.0 719.0) scale(0.250000)">
<path d="M1790,560 L2090,865"/>
<path stroke-width="2.5" d="M245,270 L380,-20"/>
<path stroke-width="2.5" d="M245,270 L250,415 L322,390 L875,572 L830,-20"/>
<path stroke-width="2" d="M322,390 L320,265"/>
<path stroke-width="1.8" stroke-dasharray="50 20" d="M320,230 L400,-10"/>
<ellipse cx="290" cy="370" rx="22" ry="12" transform="rotate(-30 290 370)" stroke-width="2"/>
<circle cx="402" cy="367" r="10" stroke-width="2"/><circle cx="810" cy="505" r="10" stroke-width="2"/>
<path stroke-width="2.2" d="M440,-10 L445,40 L520,75 L545,45 L580,50 L640,80 L645,105 L752,145 L755,62 L620,15 L590,-10"/>
<path stroke-width="2" d="M593,60 L590,-10"/>
<circle cx="593" cy="55" r="7" fill="#111" stroke="none"/>
<path stroke-width="2.5" d="M780,-10 L790,58 L840,35 L835,-10"/>

<path stroke-width="2.5" d="M248,600 L238,520 L750,690 L760,772 L750,780 L250,600"/>
<path stroke-width="3" d="M250,600 L252,770 L712,920"/>
<path stroke-width="1.8" d="M258,610 L742,770"/>
<g fill="#111" stroke="none"><circle cx="285" cy="565" r="11"/><circle cx="718" cy="720" r="11"/><circle cx="290" cy="822" r="11"/><circle cx="422" cy="866" r="11"/><circle cx="560" cy="915" r="9"/><circle cx="975" cy="885" r="10"/><circle cx="968" cy="935" r="10"/><circle cx="615" cy="1265" r="8"/><circle cx="595" cy="1330" r="7"/><circle cx="820" cy="1320" r="8"/><circle cx="860" cy="1295" r="8"/><circle cx="680" cy="1430" r="8"/><circle cx="540" cy="1590" r="8"/></g>
<circle cx="670" cy="955" r="13" stroke-width="2.2"/>
<path stroke-width="2.5" d="M252,770 L240,840 L205,875 L185,915 L162,1010 L140,1100 L152,1135 L620,1400 L645,1470"/>
<path stroke-width="2.5" d="M712,920 L715,1010 L665,1045 L625,1100 L612,1200 L645,1225 L600,1350 L570,1342 L545,1320 Q535,1230 580,1215 L612,1225"/>
<g stroke-width="2.5">
<ellipse cx="215" cy="1035" rx="33" ry="46" transform="rotate(20 215 1035)"/>
<ellipse cx="340" cy="1025" rx="33" ry="46" transform="rotate(20 340 1025)"/>
<ellipse cx="412" cy="1145" rx="33" ry="46" transform="rotate(20 412 1145)"/>
<ellipse cx="545" cy="1120" rx="33" ry="46" transform="rotate(20 545 1120)"/>
<ellipse cx="845" cy="895" rx="33" ry="46" transform="rotate(20 845 895)"/>
</g>
<path stroke-width="1.8" stroke-dasharray="60 20" d="M255,850 L700,1000"/>
<path stroke-width="2.5" d="M770,772 L765,1000 L778,1075 Q800,1110 830,1105 Q865,1090 880,1040 L900,975 L965,980 L990,985 L1020,862 L955,838 L945,805 L905,795 L770,745"/>
<path stroke-width="1.8" d="M920,940 L950,860"/>
<path stroke-width="2.2" d="M665,1060 L795,1110"/>
<path stroke-width="3" d="M625,1150 L855,1265"/>
<path stroke-width="2.5" d="M790,1325 L800,1360 L900,1292 L895,1245 L790,1305 Z"/>


<path stroke-width="2.5" d="M115,1200 L285,1590 L380,1660 M560,1580 L600,1540 L645,1470"/>
<rect x="320" y="1445" width="190" height="75" rx="37" transform="rotate(22 415 1482)" stroke-width="2.5"/>
<path stroke-width="2.5" d="M450,1610 L570,1550 L578,1620 L520,1660"/>
<path stroke-width="2.5" d="M670,1360 Q690,1330 730,1335 L770,1355 L760,1420 L700,1440 L690,1395 Q665,1380 670,1360 Z"/>
<path stroke-width="3" d="M640,1440 L652,1475 L700,1445"/>
</g></g>
</g>
<g class="t">
<text x="2044" y="1169" text-anchor="middle">7</text>
<text x="2143" y="1339" text-anchor="middle">18</text>
<text x="2188" y="1429" text-anchor="middle">17</text>
<text x="2284" y="1456" text-anchor="middle">16</text>
<text x="2002" y="1481" text-anchor="middle">3</text>
<text x="2722" y="1419" text-anchor="middle">14</text>
<text x="2526" y="1537" text-anchor="middle">15</text>
<text x="1651" y="1164" text-anchor="middle">23</text>
<text x="1442" y="1153" text-anchor="middle">19</text>
<text x="1781" y="1259" text-anchor="middle">24</text>
<text x="1039" y="1523" text-anchor="middle">28</text>
<text x="1221" y="1164" text-anchor="middle">5</text>
<text x="182" y="1926" text-anchor="middle">33</text>
<text x="418" y="2037" text-anchor="middle">32</text>
<text x="1418" y="1772" text-anchor="middle">7</text>
<text x="1556" y="1822" text-anchor="middle">27</text>
<text x="1671" y="1847" text-anchor="middle">3</text>
<text x="2057" y="1574" text-anchor="middle">26</text>
<text x="2007" y="1658" text-anchor="middle">3</text>
<text x="2057" y="1753" text-anchor="middle">26</text>
<text x="1185" y="1709" text-anchor="middle">3</text>
<text x="433" y="1298" text-anchor="middle">34</text>
<text x="725" y="1259" text-anchor="middle">5</text>
<text x="659" y="823" text-anchor="middle">1</text>
<text x="640" y="1026" text-anchor="middle">5</text>
<text x="410" y="1123" text-anchor="middle">35</text>
<text x="1233" y="857" text-anchor="middle">4</text>
<text x="563" y="2037" text-anchor="middle">31</text>
<text x="975" y="1974" text-anchor="middle">30</text>
<text x="1097" y="1974" text-anchor="middle">29</text>
<text x="1572" y="985" text-anchor="middle">20</text>
<text x="1384" y="1070" text-anchor="middle">21</text>
<text x="1552" y="1093" text-anchor="middle">22</text>
<text x="1761" y="502" text-anchor="middle">7</text>
<text x="1681" y="552" text-anchor="middle">6</text>
<text x="1535" y="695" text-anchor="middle">5</text>
<text x="2311" y="547" text-anchor="middle">10</text>
<text x="2174" y="62" text-anchor="middle">8</text>
<text x="2360" y="73" text-anchor="middle">9</text>
<text x="2590" y="807" text-anchor="middle">12</text>
<text x="2639" y="1033" text-anchor="middle">13</text>
<text x="1077" y="684" text-anchor="middle">3</text>
<text x="801" y="691" text-anchor="middle">2</text>
<text x="2142" y="731" text-anchor="middle">11</text>
<text x="1925" y="1314" text-anchor="middle">3</text>
<text x="1946" y="1391" text-anchor="middle">25</text>
<text x="2085" y="1048" text-anchor="middle">19</text>

</g>
</svg>
</body></html>
